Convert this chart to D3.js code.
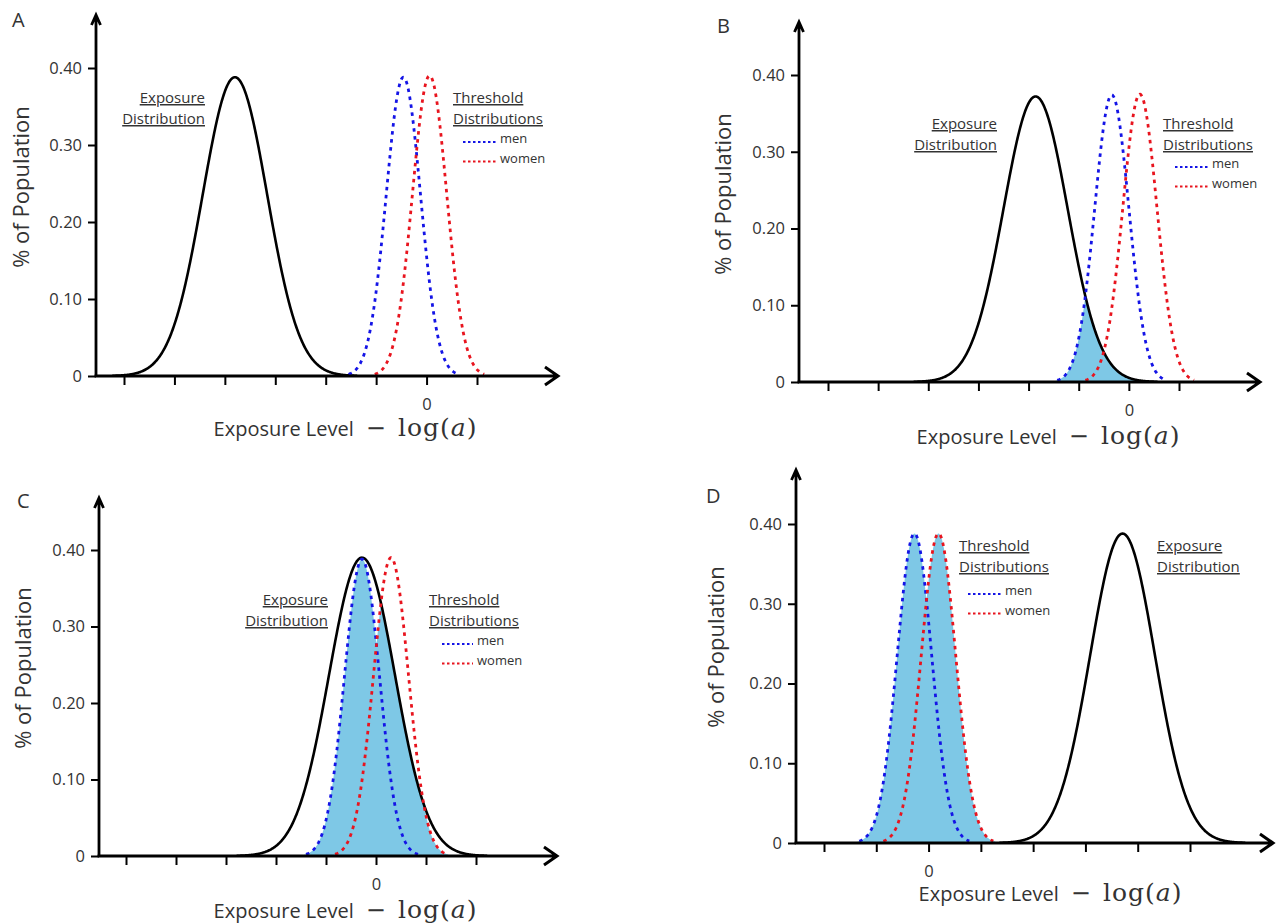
<!DOCTYPE html>
<html>
<head>
<meta charset="utf-8">
<script src="https://cdn.jsdelivr.net/npm/d3@7"></script>
<style>
  body { margin: 0; background: #fff; }
  svg text { font-family: "Open Sans", sans-serif; fill: #333; }
</style>
</head>
<body>
<svg id="fig" width="1282" height="924"></svg>
<script>
// values (x in tick units, 0 = log(a); y = share of population)
const panelIds = ['A', 'B', 'C', 'D']
const yTicks = [0, 0.1, 0.2, 0.3, 0.4]
const xTicks = [
  [-6, -5, -4, -3, -2, -1, 0, 1],
  [-6, -5, -4, -3, -2, -1, 0, 1],
  [-5, -4, -3, -2, -1, 0, 1, 2],
  [-2, -1, 0, 1, 2, 3, 4, 5]
]
const exposureMean = [-3.8, -1.86, -0.28, 3.71]
const exposureSd = [0.64, 0.64, 0.66, 0.62]
const exposurePeak = [0.388, 0.372, 0.39, 0.388]
const menMean = [-0.46, -0.34, -0.28, -0.27]
const womenMean = [0.06, 0.22, 0.3, 0.19]
const thresholdSd = [0.34, 0.34, 0.35, 0.33]
const menPeak = [0.388, 0.374, 0.388, 0.388]
const womenPeak = [0.39, 0.375, 0.39, 0.388]
const shading = ['none', 'overlap', 'overlap', 'all']
const legendNames = ['men', 'women']
const legendColors = ['#1414e6', '#e8141e']

// where each panel sits on the page
const layout = [
  { ax: 96, ay: 376, top: 15, right: 558, x0: 124, x1: 477, y40: 68, letter: [12, 27], ylab: [29, 187], xlab: [345, 436],
    expo: { x: 205, y: 103, anchor: 'end' }, thr: { x: 453, y: 103 }, leg: { x1: 463, x2: 496, tx: 500, y: 143 } },
  { ax: 799, ay: 382, top: 22, right: 1260, x0: 828, x1: 1179, y40: 75, letter: [717, 33], ylab: [731, 194], xlab: [1048, 444],
    expo: { x: 997, y: 129, anchor: 'end' }, thr: { x: 1163, y: 129 }, leg: { x1: 1175, x2: 1208, tx: 1212, y: 168 } },
  { ax: 99, ay: 856, top: 498, right: 557, x0: 126, x1: 476, y40: 550, letter: [17, 508], ylab: [31, 668], xlab: [345, 918],
    expo: { x: 328, y: 605, anchor: 'end' }, thr: { x: 429, y: 605 }, leg: { x1: 442, x2: 473, tx: 477, y: 645 } },
  { ax: 796, ay: 843, top: 470, right: 1273, x0: 824, x1: 1190, y40: 524, letter: [706, 503], ylab: [724, 647], xlab: [1050, 901],
    expo: { x: 1157, y: 551, anchor: 'start' }, thr: { x: 959, y: 551 }, leg: { x1: 968, x2: 1001, tx: 1005, y: 595 } }
]

const svg = d3.select('#fig')

function bell (mean, sd, peak) {
  return x => peak * Math.exp(-0.5 * ((x - mean) / sd) ** 2)
}

panelIds.forEach((id, i) => drawPanel(id, i))

function drawPanel (id, i) {
  const L = layout[i]
  const ticks = xTicks[i]
  const g = svg.append('g').attr('class', 'panel-' + id)

  const xScale = d3.scaleLinear()
    .domain([ticks[0], ticks[ticks.length - 1]])
    .range([L.x0, L.x1])
  const yScale = d3.scaleLinear()
    .domain([0, 0.4])
    .range([L.ay, L.y40])

  const expo = bell(exposureMean[i], exposureSd[i], exposurePeak[i])
  const men = bell(menMean[i], thresholdSd[i], menPeak[i])
  const women = bell(womenMean[i], thresholdSd[i], womenPeak[i])

  const xmin = xScale.invert(L.ax)
  const xmax = xScale.invert(L.right - 14)
  const step = (xmax - xmin) / 900

  // shaded area under the threshold curves
  if (shading[i] !== 'none') {
    const lo = Math.min(menMean[i], womenMean[i]) - 3.3 * thresholdSd[i]
    const hi = Math.max(menMean[i], womenMean[i]) + 3.3 * thresholdSd[i]
    const xs = d3.range(lo, hi, step)
    const area = d3.area()
      .x(d => xScale(d))
      .y0(yScale(0))
      .y1(d => {
        const t = Math.max(men(d), women(d))
        return yScale(shading[i] === 'overlap' ? Math.min(t, expo(d)) : t)
      })
    g.append('path')
      .attr('d', area(xs))
      .attr('fill', '#7ec8e6')
  }

  const line = fn => d3.line().x(d => xScale(d)).y(d => yScale(fn(d)))

  const ex = d3.range(Math.max(xmin, exposureMean[i] - 3.8 * exposureSd[i]), Math.min(xmax, exposureMean[i] + 3.8 * exposureSd[i]), step)
  g.append('path')
    .attr('d', line(expo)(ex))
    .attr('fill', 'none')
    .attr('stroke', '#000')
    .attr('stroke-width', 2.6)

  const curves = [[men, menMean[i]], [women, womenMean[i]]]
  curves.forEach(([fn, m], k) => {
    const xs = d3.range(m - 3.2 * thresholdSd[i], m + 3.2 * thresholdSd[i], step)
    g.append('path')
      .attr('d', line(fn)(xs))
      .attr('fill', 'none')
      .attr('stroke', legendColors[k])
      .attr('stroke-width', 2.8)
      .attr('stroke-dasharray', '3.5,4.5')
  })

  // axes
  const yAxis = d3.axisLeft(yScale)
    .tickValues(yTicks)
    .tickSize(8)
    .tickPadding(6)
    .tickFormat(d => d === 0 ? '0' : d3.format('.2f')(d))
  const ya = g.append('g')
    .attr('transform', 'translate(' + L.ax + ',0)')
    .call(yAxis)
  ya.select('.domain').remove()
  ya.selectAll('line').attr('stroke', '#000').attr('stroke-width', 2)
  ya.selectAll('text').attr('font-size', 16.5).style('fill', '#333')

  const xAxis = d3.axisBottom(xScale)
    .tickValues(ticks)
    .tickSize(9)
    .tickPadding(13)
    .tickFormat(d => d === 0 ? '0' : '')
  const xa = g.append('g')
    .attr('transform', 'translate(0,' + L.ay + ')')
    .call(xAxis)
  xa.select('.domain').remove()
  xa.selectAll('line').attr('stroke', '#000').attr('stroke-width', 2)
  xa.selectAll('text').attr('font-size', 16.5).style('fill', '#333')

  // axis lines with arrow heads
  g.append('path')
    .attr('d', 'M' + L.ax + ',' + (L.ay + 1) + 'V' + L.top + 'M' + (L.ax - 4.5) + ',' + (L.top + 10) + 'L' + L.ax + ',' + L.top + 'L' + (L.ax + 4.5) + ',' + (L.top + 10))
    .attr('fill', 'none').attr('stroke', '#000').attr('stroke-width', 2.8)
  g.append('path')
    .attr('d', 'M' + (L.ax - 1.4) + ',' + L.ay + 'H' + L.right + 'M' + (L.right - 13) + ',' + (L.ay - 9) + 'L' + L.right + ',' + L.ay + 'L' + (L.right - 13) + ',' + (L.ay + 9))
    .attr('fill', 'none').attr('stroke', '#000').attr('stroke-width', 3)

  // panel letter
  g.append('text')
    .attr('x', L.letter[0]).attr('y', L.letter[1])
    .attr('font-size', 20)
    .text(id)

  // axis titles
  g.append('text')
    .attr('transform', 'translate(' + L.ylab[0] + ',' + L.ylab[1] + ') rotate(-90)')
    .attr('text-anchor', 'middle')
    .attr('font-size', 22)
    .text('% of Population')

  const serif = '"DejaVu Serif", serif'
  const xl = g.append('text')
    .attr('x', L.xlab[0]).attr('y', L.xlab[1])
    .attr('text-anchor', 'middle')
    .attr('font-size', 20)
  xl.append('tspan').text('Exposure Level')
  xl.append('tspan').style('font-family', serif).attr('font-size', 24).text('\u2002\u2212\u2002')
  xl.append('tspan').style('font-family', serif).attr('font-size', 25).attr('letter-spacing', 1).text('log(')
  xl.append('tspan').style('font-family', serif).attr('font-size', 25).style('font-style', 'italic').attr('letter-spacing', 1).text('a')
  xl.append('tspan').style('font-family', serif).attr('font-size', 25).text(')')

  // annotations
  g.append('text')
    .attr('x', L.expo.x).attr('y', L.expo.y)
    .attr('text-anchor', L.expo.anchor)
    .attr('font-size', 15)
    .style('text-decoration', 'underline')
    .text('Exposure')
  g.append('text')
    .attr('x', L.expo.x).attr('y', L.expo.y + 21)
    .attr('text-anchor', L.expo.anchor)
    .attr('font-size', 15)
    .style('text-decoration', 'underline')
    .text('Distribution')

  g.append('text')
    .attr('x', L.thr.x).attr('y', L.thr.y)
    .attr('font-size', 15)
    .style('text-decoration', 'underline')
    .text('Threshold')
  g.append('text')
    .attr('x', L.thr.x).attr('y', L.thr.y + 21)
    .attr('font-size', 15)
    .style('text-decoration', 'underline')
    .text('Distributions')

  legendNames.forEach((name, k) => {
    const y = L.leg.y + k * 19.5
    g.append('line')
      .attr('x1', L.leg.x1).attr('x2', L.leg.x2)
      .attr('y1', y - 1).attr('y2', y - 1)
      .attr('stroke', legendColors[k])
      .attr('stroke-width', 2.2)
      .attr('stroke-dasharray', '2.5,2.5')
    g.append('text')
      .attr('x', L.leg.tx).attr('y', y)
      .attr('font-size', 13)
      .text(name)
  })
}
</script>
</body>
</html>
